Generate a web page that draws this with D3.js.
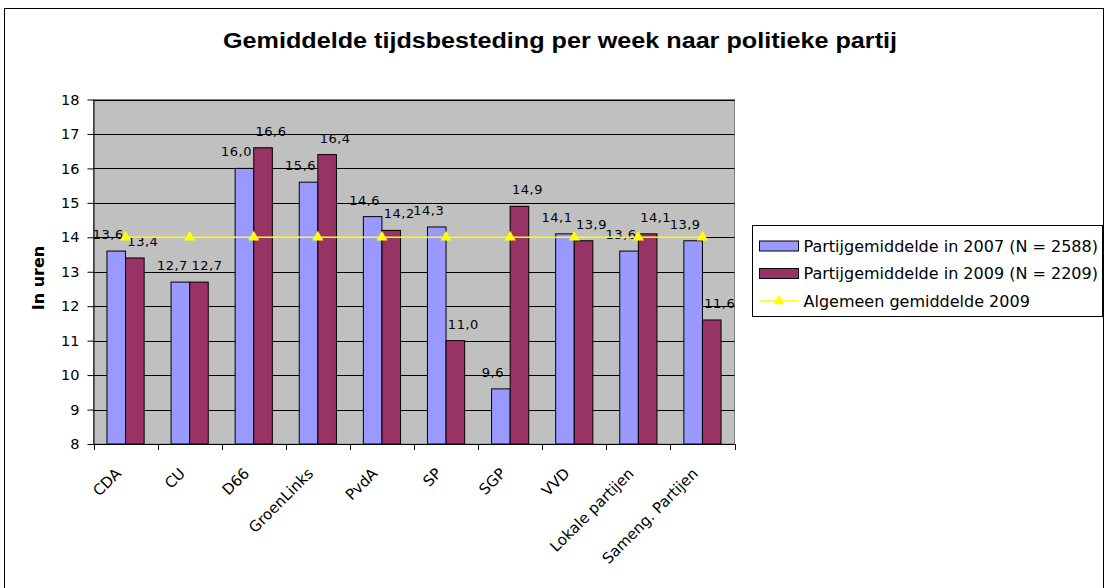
<!DOCTYPE html>
<html>
<head>
<meta charset="utf-8">
<script src="https://cdn.jsdelivr.net/npm/d3@7"></script>
<style>
    body { margin: 0; background: #fff; }
    text { font-family: "DejaVu Sans", Verdana, sans-serif; }
</style>
</head>
<body>
<div id="chart"></div>
<script>
// Gemiddelde tijdsbesteding per week naar politieke partij

const categories = ["CDA", "CU", "D66", "GroenLinks", "PvdA", "SP", "SGP", "VVD", "Lokale partijen", "Sameng. Partijen"];
const values2007 = [13.6, 12.7, 16.0, 15.6, 14.6, 14.3, 9.6, 14.1, 13.6, 13.9];
const values2009 = [13.4, 12.7, 16.6, 16.4, 14.2, 11.0, 14.9, 13.9, 14.1, 11.6];
const average2009 = [14.0, 14.0, 14.0, 14.0, 14.0, 14.0, 14.0, 14.0, 14.0, 14.0];
const yTicks = [8, 9, 10, 11, 12, 13, 14, 15, 16, 17, 18];
const seriesNames = ["Partijgemiddelde in 2007 (N = 2588)", "Partijgemiddelde in 2009 (N = 2209)", "Algemeen gemiddelde 2009"];

const colors = { y2007: "#9999FF", y2009: "#993366", avg: "#FFFF00", plot: "#C0C0C0" };

const width = 1108, height = 588;
const plot = { left: 93.5, right: 734.5, top: 99.5, bottom: 444 };

const svg = d3.select("#chart").append("svg")
    .attr("width", width)
    .attr("height", height);

// chart area border
svg.append("rect")
    .attr("x", 4.5).attr("y", 8.5)
    .attr("width", 1099).attr("height", 600)
    .attr("fill", "#fff")
    .attr("stroke", "#000");

svg.append("text")
    .attr("x", 560)
    .attr("y", 48)
    .attr("text-anchor", "middle")
    .attr("textLength", 674)
    .attr("lengthAdjust", "spacingAndGlyphs")
    .style("font-family", "'Liberation Sans', Arial, sans-serif")
    .style("font-weight", "bold")
    .style("font-size", "22px")
    .text("Gemiddelde tijdsbesteding per week naar politieke partij");

const x0 = d3.scaleBand()
    .domain(categories)
    .range([plot.left, plot.right])
    .paddingInner(0.42)
    .paddingOuter(0.21);

const x1 = d3.scaleBand()
    .domain(["y2007", "y2009"])
    .range([0, x0.bandwidth()]);

const y = d3.scaleLinear()
    .domain([8, 18])
    .range([plot.bottom, plot.top]);

const step = x0.step();
const bandLeft = c => x0(c) - x0.paddingOuter() * step;
const bandCenter = c => x0(c) + x0.bandwidth() / 2;

// plot area
svg.append("rect")
    .attr("x", plot.left).attr("y", plot.top)
    .attr("width", plot.right - plot.left)
    .attr("height", plot.bottom - plot.top)
    .attr("fill", colors.plot)
    .attr("stroke", "#808080");

// gridlines
svg.append("g").selectAll("line")
    .data(yTicks.filter(t => t > 8))
    .enter().append("line")
    .attr("x1", plot.left).attr("x2", plot.right)
    .attr("y1", d => Math.round(y(d)) + 0.5)
    .attr("y2", d => Math.round(y(d)) + 0.5)
    .attr("stroke", "#000")
    .attr("stroke-width", 1);

// bars
const groups = svg.append("g").selectAll("g")
    .data(categories.map((c, i) => ({ cat: c, vals: [
        { key: "y2007", value: values2007[i] },
        { key: "y2009", value: values2009[i] }
    ] })))
    .enter().append("g")
    .attr("transform", d => "translate(" + x0(d.cat) + ",0)");

groups.selectAll("rect")
    .data(d => d.vals)
    .enter().append("rect")
    .attr("x", d => x1(d.key))
    .attr("y", d => y(d.value))
    .attr("width", x1.bandwidth())
    .attr("height", d => y(8) - y(d.value))
    .attr("fill", d => colors[d.key])
    .attr("stroke", "#000")
    .attr("stroke-width", 1);

const fmt = v => d3.format(".1f")(v).replace(".", ",");

groups.selectAll("text")
    .data(d => d.vals)
    .enter().append("text")
    .attr("x", d => x1(d.key) + x1.bandwidth() / 2 + (d.key === "y2007" ? -8 : 8))
    .attr("y", d => y(d.value) - 12)
    .attr("text-anchor", "middle")
    .style("font-size", "13px")
    .style("letter-spacing", "0.5px")
    .attr("fill", "#000")
    .text(d => fmt(d.value));

// average line
const line = d3.line()
    .x((d, i) => bandCenter(categories[i]))
    .y(d => y(d));

svg.append("path")
    .datum(average2009)
    .attr("d", line)
    .attr("fill", "none")
    .attr("stroke", colors.avg)
    .attr("stroke-width", 1.5);

const triangle = d3.symbol().type(d3.symbolTriangle).size(55);

svg.append("g").selectAll("path")
    .data(average2009)
    .enter().append("path")
    .attr("d", triangle)
    .attr("transform", (d, i) => "translate(" + bandCenter(categories[i]) + "," + y(d) + ")")
    .attr("fill", colors.avg);

// y axis
const yAxis = svg.append("g")
    .attr("transform", "translate(" + plot.left + ",0)")
    .call(d3.axisLeft(y).tickValues(yTicks).tickSize(6).tickSizeOuter(0).tickPadding(8));
yAxis.select(".domain").attr("stroke", "#000");
yAxis.selectAll("line").attr("stroke", "#000");
yAxis.selectAll("text")
    .style("font-family", "'DejaVu Sans', Verdana, sans-serif")
    .style("font-size", "14.5px")
    .attr("fill", "#000");

svg.append("text")
    .attr("transform", "translate(44,278) rotate(-90)")
    .attr("text-anchor", "middle")
    .style("font-size", "16px")
    .style("font-weight", "bold")
    .text("In uren");

// x axis
svg.append("line")
    .attr("x1", plot.left).attr("x2", plot.right)
    .attr("y1", plot.bottom + 0.5).attr("y2", plot.bottom + 0.5)
    .attr("stroke", "#000");

svg.append("g").selectAll("line")
    .data(categories.concat(["end"]))
    .enter().append("line")
    .attr("x1", (d, i) => Math.round(i < categories.length ? bandLeft(d) : plot.right) + 0.5)
    .attr("x2", (d, i) => Math.round(i < categories.length ? bandLeft(d) : plot.right) + 0.5)
    .attr("y1", plot.bottom)
    .attr("y2", plot.bottom + 6)
    .attr("stroke", "#000");

svg.append("g").selectAll("text")
    .data(categories)
    .enter().append("text")
    .attr("transform", d => "translate(" + (bandCenter(d) - 11) + "," + (plot.bottom + 23) + ") rotate(-45)")
    .attr("text-anchor", "end")
    .attr("dy", "0.7em")
    .style("font-size", "15px")
    .text(d => d);

// legend
const legend = svg.append("g").attr("transform", "translate(752.5,225.5)");

legend.append("rect")
    .attr("width", 350).attr("height", 91)
    .attr("fill", "#fff")
    .attr("stroke", "#000");

const rowY = [20.5, 48, 75.5];

[colors.y2007, colors.y2009].forEach((c, i) => {
    legend.append("rect")
        .attr("x", 7).attr("y", rowY[i] - 5)
        .attr("width", 39).attr("height", 10)
        .attr("fill", c)
        .attr("stroke", "#000");
});

legend.append("line")
    .attr("x1", 7).attr("x2", 46)
    .attr("y1", rowY[2]).attr("y2", rowY[2])
    .attr("stroke", colors.avg)
    .attr("stroke-width", 1.5);

legend.append("path")
    .attr("d", triangle)
    .attr("transform", "translate(26.5," + rowY[2] + ")")
    .attr("fill", colors.avg);

legend.selectAll(".legend-label")
    .data(seriesNames)
    .enter().append("text")
    .attr("class", "legend-label")
    .attr("x", 51)
    .attr("y", (d, i) => rowY[i])
    .attr("dy", "0.36em")
    .style("font-size", "16px")
    .text(d => d);
</script>
</body>
</html>
